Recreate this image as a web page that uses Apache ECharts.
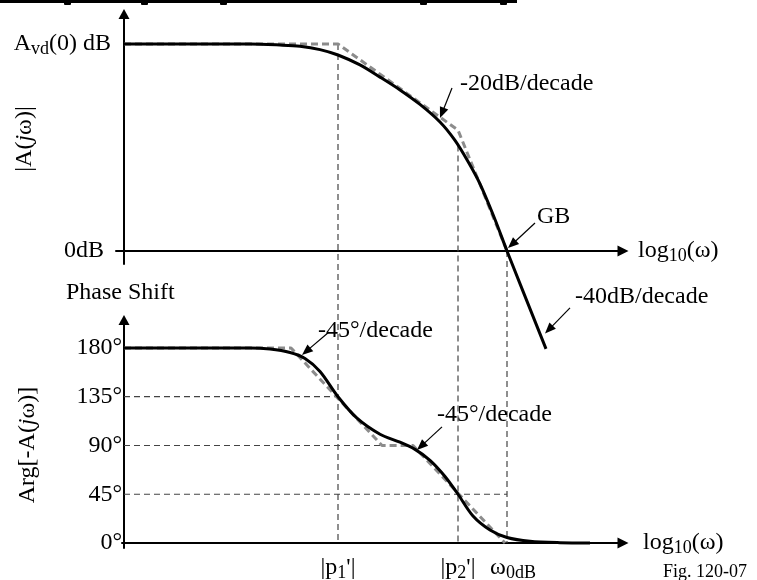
<!DOCTYPE html>
<html>
<head>
<meta charset="utf-8">
<script src="https://cdn.jsdelivr.net/npm/echarts@6.0.0/dist/echarts.min.js"></script>
<style>
html,body{margin:0;padding:0;background:#fff;}
#chart{width:757px;height:580px;}
</style>
</head>
<body>
<div id="chart"></div>
<script>
const P1 = 4.28, P2 = 6.68, W0 = 7.66;

// magnitude (dB units, A_vd(0) = 100)
const magX  = [0, 2.52, 3.12, 3.52, 3.92, 4.28, 4.72, 5.12, 5.52, 5.92, 6.32, 6.62, 6.88, 7.12, 7.42, 7.66, 8.44];
const magDb = [100, 100, 99.5, 98.9, 97.3, 94.7, 89.9, 84.0, 77.8, 70.8, 62.3, 53.4, 43.2, 32.4, 15.2, 0, -47.3];
const magAtP2 = 51.0;
const magAsyX  = [0, P1, P2, W0];
const magAsyDb = [100, 100, 58.4, 0];
const magTicks = [0, 100];

// phase (degrees)
const phX   = [0, 2.52, 2.92, 3.32, 3.62, 3.92, 4.28, 4.66, 5.12, 5.52, 5.82, 6.12, 6.42, 6.68, 6.98, 7.32, 7.66, 8.12, 8.72, 9.32];
const phDeg = [180, 180, 179.0, 175.8, 170.3, 158.3, 135.0, 115.2, 100.4, 93.0, 86.4, 76.3, 61.4, 45.0, 24.9, 12.0, 5.1, 1.6, 0.3, 0];
const phAsyX   = [0, 3.34, 5.16, 5.78, 7.62];
const phAsyDeg = [180, 180, 90, 90, 0];
const phaseTicks = [0, 45, 90, 135, 180];
const phaseGuideDeg = [135, 90, 45];
const phaseGuideEnd = [P1, 5.16, W0];

// frequency tick labels
const freqTicks  = [P1, P2, W0];
const freqLabels = ["{m||p}{s|1}{m|'|}", "{m||p}{s|2}{m|'|}", "{w|ω}{s|0dB}"];

// annotation arrows: [gridIndex, tailX, tailY, tipX, tipY]
const arrowTail = [[0, 6.56, 78.7], [0, 8.22, 13.5], [0, 8.92, -27.5], [1, 4.10, 194.8], [1, 6.36, 107.2]];
const arrowTip  = [[6.32, 64.2], [7.68, 1.4], [8.42, -39.9], [3.56, 173.5], [5.86, 85.9]];

// ---- chart ----
const serif = "'Liberation Serif', 'Times New Roman', Times, serif";
const R = {
  m: {fontFamily: serif, fontSize: 24, color: '#000', lineHeight: 28},
  w: {fontFamily: serif, fontSize: 24, color: '#000', lineHeight: 28, padding: [0, 0, 0, 12]},
  z: {fontFamily: serif, fontSize: 24, color: '#000', lineHeight: 28, padding: [0, 7, 0, 0]},
  e: {fontFamily: serif, fontSize: 24, color: '#000', lineHeight: 28, padding: [0, 22, 0, 0]},
  i: {fontFamily: serif, fontSize: 24, color: '#000', lineHeight: 28, fontStyle: 'italic'},
  s: {fontFamily: serif, fontSize: 18, color: '#000', lineHeight: 17, padding: [11, 0, 0, 0]}
};
const pairs = (xs, ys) => xs.map((x, i) => [x, ys[i]]);
const axisLine = (size) => ({onZero: true, lineStyle: {color: '#000', width: 2}, symbol: ['none', 'triangle'], symbolSize: size});

const chart = echarts.init(document.getElementById('chart'), null, {renderer: 'canvas'});

const series = [
  {type: 'line', xAxisIndex: 0, yAxisIndex: 0, data: pairs(magAsyX, magAsyDb), symbol: 'none', clip: false, z: 3,
   lineStyle: {color: '#8c8c8c', width: 3, type: [7, 4]}},
  {type: 'line', xAxisIndex: 0, yAxisIndex: 0, data: pairs(magX, magDb), symbol: 'none', clip: false, z: 4,
   smooth: 0.3, lineStyle: {color: '#000', width: 3}},
  {type: 'line', xAxisIndex: 1, yAxisIndex: 1, data: pairs(phAsyX, phAsyDeg), symbol: 'none', clip: false, z: 3,
   lineStyle: {color: '#8c8c8c', width: 3, type: [7, 4]}},
  {type: 'line', xAxisIndex: 1, yAxisIndex: 1, data: pairs(phX, phDeg), symbol: 'none', clip: false, z: 4,
   smooth: 0.3, lineStyle: {color: '#000', width: 3}}
];
phaseGuideDeg.forEach((d, i) => {
  series.push({type: 'line', xAxisIndex: 1, yAxisIndex: 1, data: [[0, d], [phaseGuideEnd[i], d]], symbol: 'none',
    clip: false, z: 1, lineStyle: {color: '#444', width: 1.2, type: [6, 4]}});
});

chart.setOption({
  animation: false,
  backgroundColor: '#fff',
  grid: [
    {left: 116, top: 14, width: 507, height: 250, outerBoundsMode: 'none', containLabel: false},
    {left: 122, top: 320, width: 501, height: 228, outerBoundsMode: 'none', containLabel: false}
  ],
  xAxis: [
    {gridIndex: 0, type: 'value', min: -0.16, max: 9.98, axisLine: axisLine([11, 11]),
     axisTick: {show: false}, axisLabel: {show: false}, splitLine: {show: false}, nameMoveOverlap: false,
     name: '{m|log}{s|10}{m|(ω)}', nameLocation: 'end', nameGap: 15, nameTextStyle: {rich: R}},
    {gridIndex: 1, type: 'value', min: -0.04, max: 9.98, axisLine: axisLine([11, 11]),
     axisTick: {show: false}, splitLine: {show: false}, nameMoveOverlap: false,
     axisLabel: {show: true, customValues: freqTicks, margin: 6, rich: R,
       formatter: (v) => { let k = 0; freqTicks.forEach((t, j) => { if (Math.abs(t - v) < Math.abs(freqTicks[k] - v)) k = j; }); return freqLabels[k]; }},
     name: '{m|log}{s|10}{m|(ω)}', nameLocation: 'end', nameGap: 20, nameTextStyle: {rich: R}}
  ],
  yAxis: [
    {gridIndex: 0, type: 'value', min: -6.3, max: 114.5, axisLine: axisLine([11, 10]),
     axisTick: {show: false}, splitLine: {show: false}, nameMoveOverlap: false,
     axisLabel: {customValues: magTicks, margin: 5, rich: R,
       formatter: (v) => v === 0 ? '{z|0dB}' : '{m|A}{s|vd}{m|(0) dB}'},
     name: '{m||A(}{i|j}{m|ω)|}', nameLocation: 'middle', nameRotate: 90, nameGap: 77, nameTextStyle: {rich: R}},
    {gridIndex: 1, type: 'value', min: -4.6, max: 205.8, axisLine: axisLine([11, 10]),
     axisTick: {show: false}, splitLine: {show: false}, nameMoveOverlap: false,
     axisLabel: {customValues: phaseTicks, margin: 0, rich: R, formatter: (v) => '{m|' + v + '°}'},
     name: '{m|Arg[-A(}{i|j}{e|ω)]}', nameLocation: 'middle', nameRotate: 90, nameGap: 80, nameTextStyle: {rich: R}}
  ],
  series: series
});

// ---- overlay: cross-panel guides and annotation arrows, placed through the axes' scales ----
const px = (g, x, y) => chart.convertToPixel({gridIndex: g}, [x, y]);
const guideStyle = {stroke: '#444', lineWidth: 1.2, lineDash: [6, 4]};
const graphics = [];
const vGuide = (x, topVal) => {
  const a = px(0, x, topVal), b = px(1, x, 0);
  graphics.push({type: 'line', z: 1, shape: {x1: a[0], y1: a[1], x2: b[0], y2: b[1]}, style: guideStyle, silent: true});
};
vGuide(P1, 100);
vGuide(P2, magAtP2);
vGuide(W0, 0);

arrowTail.forEach((t, i) => {
  const a = px(t[0], t[1], t[2]), b = px(t[0], arrowTip[i][0], arrowTip[i][1]);
  const dx = b[0] - a[0], dy = b[1] - a[1], L = Math.hypot(dx, dy);
  const ux = dx / L, uy = dy / L, nx = -uy, ny = ux;
  const hl = 11, hw = 4.5;
  const bx = b[0] - ux * hl, by = b[1] - uy * hl;
  graphics.push({type: 'line', z: 10, shape: {x1: a[0], y1: a[1], x2: bx + ux * 2, y2: by + uy * 2}, style: {stroke: '#000', lineWidth: 1.2}});
  graphics.push({type: 'polygon', z: 10, shape: {points: [[b[0], b[1]], [bx + nx * hw, by + ny * hw], [bx - nx * hw, by - ny * hw]]}, style: {fill: '#000'}});
});

const txt = (text, x, y, size) => graphics.push({type: 'text', z: 10, style: {text: text, x: x, y: y, fill: '#000',
  fontFamily: serif, fontSize: size || 24, align: 'left', verticalAlign: 'middle'}});
txt('-20dB/decade', 460, 84);
txt('GB', 537, 217);
txt('-40dB/decade', 575, 297);
txt('Phase Shift', 66, 293);
txt('-45°/decade', 318, 331);
txt('-45°/decade', 437, 415);
txt('Fig. 120-07', 663, 572, 18);

// cut-off title underline at the very top
graphics.push({type: 'rect', z: 10, shape: {x: 0, y: 0, width: 517, height: 3}, style: {fill: '#000'}});
[64, 141, 220, 420, 500].forEach((x) => graphics.push({type: 'rect', z: 10, shape: {x: x, y: 2, width: 7, height: 3, r: 1}, style: {fill: '#000'}}));

chart.setOption({graphic: graphics});
</script>
</body>
</html>
